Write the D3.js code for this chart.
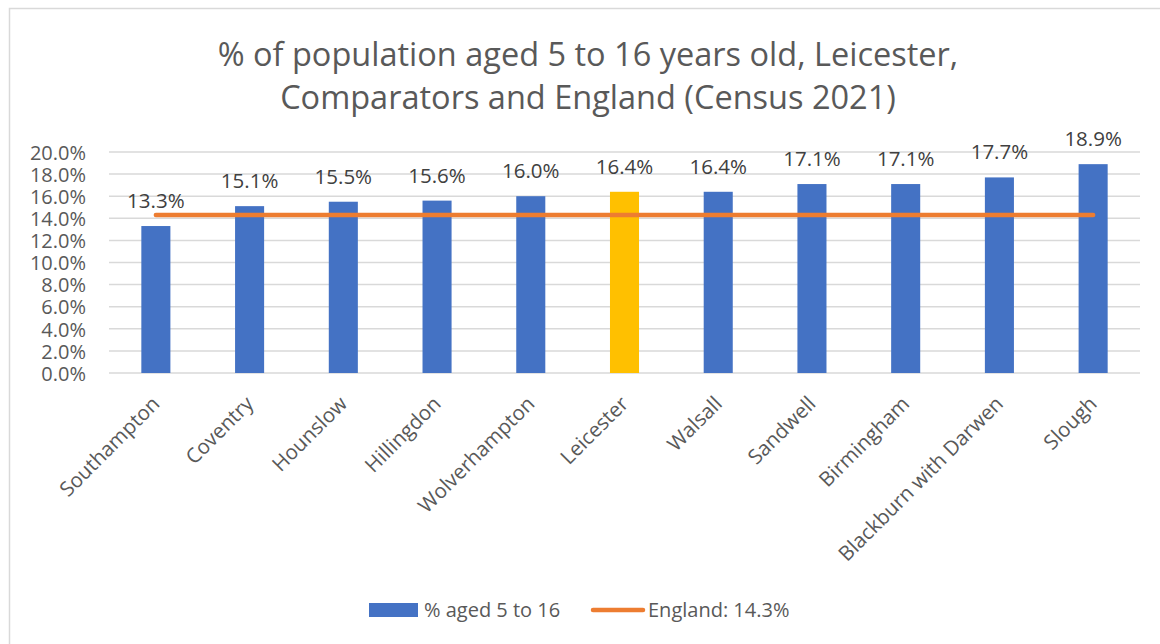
<!DOCTYPE html>
<html>
<head>
<meta charset="utf-8">
<script src="https://cdn.jsdelivr.net/npm/d3@7"></script>
<style>
  html, body { margin: 0; padding: 0; background: #fff; }
  svg { display: block; }
  text { font-family: "Open Sans", Lato, sans-serif; }
</style>
</head>
<body>
<svg id="chart" width="1160" height="644"></svg>
<script>
// Local authority areas, ordered by share of residents aged 5 to 16
const areas = ["Southampton", "Coventry", "Hounslow", "Hillingdon", "Wolverhampton",
  "Leicester", "Walsall", "Sandwell", "Birmingham", "Blackburn with Darwen", "Slough"];
const aged5to16 = [13.3, 15.1, 15.5, 15.6, 16.0, 16.4, 16.4, 17.1, 17.1, 17.7, 18.9];
const englandValue = 14.3;
const yTicks = [0, 2, 4, 6, 8, 10, 12, 14, 16, 18, 20];
const highlightArea = "Leicester";
const titleLines = ["% of population aged 5 to 16 years old, Leicester,",
  "Comparators and England (Census 2021)"];
const legendLabels = ["% aged 5 to 16", "England: 14.3%"];

const BLUE = "#4472C4", GOLD = "#FFC000", ORANGE = "#ED7D31";
const TEXT = "#595959", GRID = "#D9D9D9";
const FONT = "'Open Sans', Lato, sans-serif";

const svg = d3.select("#chart");

// chart area frame (left and top edges visible)
svg.append("path")
  .attr("d", "M9.5,650 V8.5 H1170")
  .attr("fill", "none").attr("stroke", GRID).attr("stroke-width", 1.5);

const plot = { left: 109, right: 1140, top: 152, bottom: 373 };

const x = d3.scaleBand().domain(areas).range([plot.left, plot.right]).paddingInner(0.69).paddingOuter(0.345);
const y = d3.scaleLinear().domain([0, 20]).range([plot.bottom, plot.top]);
const fmt = v => v.toFixed(1) + "%";
const centre = d => x(d) + x.bandwidth() / 2;

// title
svg.append("g").selectAll("text").data(titleLines).join("text")
  .attr("x", 588).attr("y", (d, i) => 66 + i * 43)
  .attr("text-anchor", "middle").attr("fill", TEXT)
  .attr("font-size", 32.5).text(d => d);

// gridlines
svg.append("g").selectAll("line").data(yTicks).join("line")
  .attr("x1", plot.left).attr("x2", plot.right)
  .attr("y1", d => y(d)).attr("y2", d => y(d))
  .attr("stroke", GRID).attr("stroke-width", 1.5);

// y axis labels
const yAxis = svg.append("g").attr("transform", `translate(${plot.left},0)`)
  .call(d3.axisLeft(y).tickValues(yTicks).tickFormat(fmt).tickSize(0).tickPadding(23));
yAxis.select(".domain").remove();
yAxis.selectAll("text").attr("fill", TEXT).attr("font-size", 20)
  .attr("font-family", FONT).attr("dy", "0.36em");

// bars
svg.append("g").selectAll("rect").data(areas).join("rect")
  .attr("x", d => x(d)).attr("width", x.bandwidth())
  .attr("y", (d, i) => y(aged5to16[i]))
  .attr("height", (d, i) => y(0) - y(aged5to16[i]))
  .attr("fill", d => d === highlightArea ? GOLD : BLUE);

// value labels
svg.append("g").selectAll("text").data(areas).join("text")
  .attr("x", d => centre(d))
  .attr("y", (d, i) => y(aged5to16[i]) - 18)
  .attr("text-anchor", "middle").attr("fill", "#404040").attr("font-size", 20.5)
  .text((d, i) => fmt(aged5to16[i]));

// England reference line
svg.append("path")
  .datum(areas)
  .attr("d", d3.line().x(d => centre(d)).y(() => y(englandValue)))
  .attr("fill", "none").attr("stroke", ORANGE).attr("stroke-width", 4.5)
  .attr("stroke-linecap", "round");

// category labels
svg.append("g").selectAll("text").data(areas).join("text")
  .attr("transform", d => `translate(${centre(d)},${plot.bottom + 27}) rotate(-45)`)
  .attr("text-anchor", "end").attr("dy", "0.35em")
  .attr("fill", TEXT).attr("font-size", 20.5)
  .text(d => d);

// legend
const lg = svg.append("g");
lg.append("rect").attr("x", 369).attr("y", 603).attr("width", 49).attr("height", 14).attr("fill", BLUE);
lg.append("text").attr("x", 424).attr("y", 617).attr("fill", TEXT).attr("font-size", 20).text(legendLabels[0]);
lg.append("line").attr("x1", 593).attr("x2", 643).attr("y1", 610).attr("y2", 610)
  .attr("stroke", ORANGE).attr("stroke-width", 4.5).attr("stroke-linecap", "round");
lg.append("text").attr("x", 648).attr("y", 617).attr("fill", TEXT).attr("font-size", 20).text(legendLabels[1]);
</script>
</body>
</html>
